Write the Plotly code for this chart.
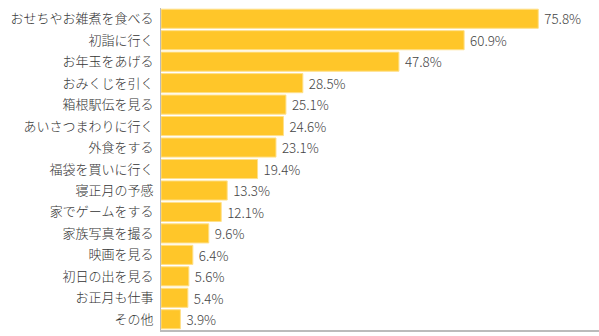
import plotly.graph_objects as go

# Activities during the New Year holidays (% of respondents)
categories = [
    "おせちやお雑煮を食べる",
    "初詣に行く",
    "お年玉をあげる",
    "おみくじを引く",
    "箱根駅伝を見る",
    "あいさつまわりに行く",
    "外食をする",
    "福袋を買いに行く",
    "寝正月の予感",
    "家でゲームをする",
    "家族写真を撮る",
    "映画を見る",
    "初日の出を見る",
    "お正月も仕事",
    "その他",
]
values = [75.8, 60.9, 47.8, 28.5, 25.1, 24.6, 23.1, 19.4, 13.3, 12.1, 9.6, 6.4, 5.6, 5.4, 3.9]

font_family = "Noto Sans CJK JP, Noto Sans, sans-serif"

fig = go.Figure(
    go.Bar(
        x=values,
        y=categories,
        orientation="h",
        marker=dict(color="#FFC629", line=dict(color="#FFE08A", width=1)),
        text=[f" {v:.1f}%" for v in values],
        textposition="outside",
        textfont=dict(family=font_family, size=14, color="#444444", weight=300),
        cliponaxis=False,
    )
)

fig.update_layout(
    width=599,
    height=336,
    margin=dict(l=161, r=0, t=8, b=6),
    paper_bgcolor="white",
    plot_bgcolor="white",
    bargap=0.11,
    showlegend=False,
    font=dict(family=font_family, size=13, color="#333333"),
)

fig.update_xaxes(
    range=[0, 88],
    showgrid=False,
    zeroline=False,
    showticklabels=False,
    showline=True,
    linecolor="#BBBBBB",
    linewidth=2,
    mirror=False,
    fixedrange=True,
)

fig.update_yaxes(
    autorange="reversed",
    showgrid=False,
    zeroline=False,
    showline=True,
    linecolor="#BBBBBB",
    linewidth=1,
    ticks="",
    ticklabelstandoff=4,
    tickfont=dict(family=font_family, size=13, color="#333333", weight=300),
    fixedrange=True,
)

fig.write_html("out.html")
